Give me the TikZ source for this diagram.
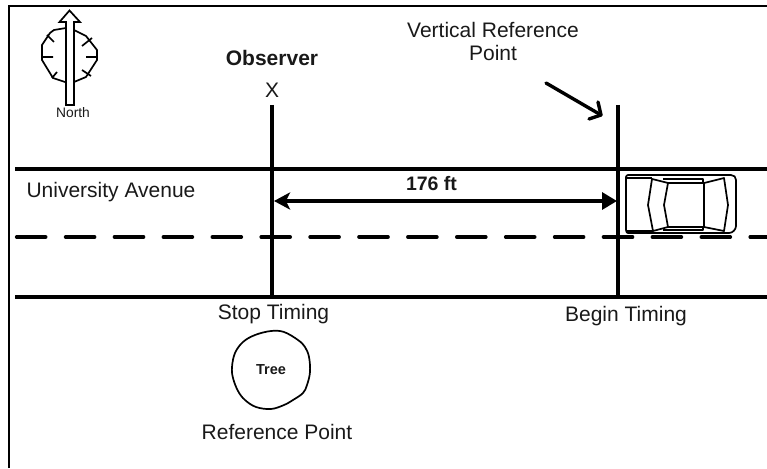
\documentclass[tikz,border=0pt]{standalone}
\usepackage{fontspec}
\setmainfont{Liberation Sans}
\usetikzlibrary{arrows.meta}
\tikzset{
  x=1pt,y=-1pt,
  road/.style={line width=3.6pt},
  thin shape/.style={line width=1.7pt,line join=round},
  label/.style={inner sep=0pt,font=\fontsize{21}{23}\selectfont,align=center,text=black!90},
  boldlabel/.style={label,font=\fontsize{21}{23}\selectfont\bfseries},
  vref/.style={line width=3.6pt},
  dimtip/.tip={Stealth[length=16pt,width=17pt,inset=4pt]},
  dimtri/.tip={Triangle[length=15pt,width=17pt]},
}
\begin{document}
\begin{tikzpicture}
\useasboundingbox (0,0) rectangle (767,468);
% frame
\draw[line width=2.2pt] (9,468) -- (9,6) -- (767,6);
% roads
\coordinate (rl) at (15,169); \coordinate (rr) at (767,169);
\coordinate (ml) at (16.7,237); \coordinate (mr) at (767,237);
\coordinate (bl) at (15,297); \coordinate (br) at (767,297);
\draw[road] (rl) -- (rr);
\draw[road] (bl) -- (br);
\draw[road,line cap=round,dash pattern=on 29pt off 19.9pt] (ml) -- (mr);
% vertical refs
\coordinate (o1) at (272,105); \coordinate (o2) at (272,297);
\coordinate (v1) at (618,105); \coordinate (v2) at (618,297);
\draw[vref] (o1) -- (o2);
\draw[vref] (v1) -- (v2);
% dimension
\coordinate (d1) at (274,201); \coordinate (d2) at (617,201);
\draw[line width=3.2pt,{dimtip}-{dimtri}] (d1) -- (d2);
\node[boldlabel,font=\fontsize{19.5}{23}\selectfont\bfseries] (dist) at (431.5,184) {176 ft};
% labels
\node[label] (univ) at (111,192) {University Avenue};
\node[boldlabel] (obs) at (272,58) {Observer};
\node[label] (x) at (272,90) {X};
\node[label] (vr) at (493,41.5) {Vertical Reference\\Point};
\node[label] (stop) at (273.5,314) {Stop Timing};
\node[label] (begin) at (626,316) {Begin Timing};
\node[label] (ref) at (277,432) {Reference Point};
% pointer arrow
\coordinate (pa) at (546,83); \coordinate (pb) at (601,115);
\draw[line width=3.4pt,line cap=round,line join=round] (pa) -- (pb);
\draw[line width=3.4pt,line cap=round,line join=round] (598,102) -- (pb) -- (589,119);
% tree
\node[boldlabel,font=\fontsize{14.5}{16}\selectfont\bfseries] (tree) at (271,370) {Tree};
\draw[line width=1.7pt,line join=round] plot[smooth cycle,tension=0.6] coordinates {
 (271,331) (284,332) (298,340) (305,347) (309,357) (310,372) (307,385) (303,393) (293,400) (284,405)
 (271,409) (256,407) (245,400) (238,391) (233,378) (232,367) (235,353) (243,342) (255,335)};
% compass
\draw[line width=1.7pt,line join=round] (66,28) -- (74,30) -- (86,36) -- (97,50) -- (97,60) -- (86,77) -- (74,82) -- (65,82) -- (53,78) -- (42,60) -- (42,45) -- (50,33) -- (54,30) -- cycle;
\draw[line width=1.7pt] (42,57) -- (53,57) (86,57) -- (97,57)
  (47,35) -- (54,42) (92,38) -- (82,46) (52,78) -- (57,72) (91,76) -- (82,70);
\node[label,font=\fontsize{13.8}{15}\selectfont] (north) at (73,112.5) {North};
\draw[line width=1.7pt,line join=miter,fill=white] (66,105) -- (66,22) -- (59.5,22) -- (69.5,10.5) -- (80,22) -- (74,22) -- (74,105) -- cycle;
% car
\draw[thin shape,fill=white] (628,175) -- (731,175) .. controls (734,175) and (736,177) .. (736,180) -- (736,226) .. controls (736,229) and (733,233) .. (729,233) -- (628,233) .. controls (627,233) and (626,232) .. (626,230) -- (626,177) .. controls (626,176) and (627,175) .. (628,175) -- cycle;
\draw[thin shape] (626,178) -- (652,178) (626,231) -- (653,231);
\draw[thin shape] (668,183) -- (704,183) -- (704,227) -- (668,227);
\draw[thin shape] (663,179) -- (703,179) -- (703,183) (663,230) -- (703,230) -- (703,227);
\draw[thin shape] (652,179) -- (668,183) -- (664,205) -- (668,227) -- (653,231) -- (648,205) -- cycle;
\draw[thin shape] (704,183) -- (724,178) -- (728,205) -- (724,231) -- (704,227);
\end{tikzpicture}
\end{document}
